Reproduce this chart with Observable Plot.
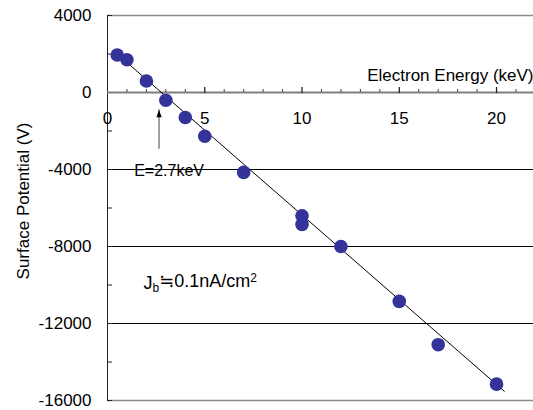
<!DOCTYPE html>
<html>
<head>
<meta charset="utf-8">
<script src="https://cdn.jsdelivr.net/npm/d3@7"></script>
<script src="https://cdn.jsdelivr.net/npm/@observablehq/plot@0.6"></script>
<style>
  html, body { margin: 0; padding: 0; background: #fff; }
  svg { font-family: "Liberation Sans", Arial, sans-serif; }
</style>
</head>
<body>
<div id="chart"></div>
<script>
// Measured data: electron energy (keV) vs surface potential (V)
const energy    = [0.5, 1, 2, 3, 4, 5, 7, 10, 10, 12, 15, 17, 20];
const potential = [1950, 1700, 600, -400, -1300, -2270, -4150, -6400, -6850, -8000, -10850, -13100, -15150];

// Fitted line endpoints
const fitEnergy    = [0.5, 20.4];
const fitPotential = [2000, -15520];

// Axis ticks
const yGridTicks  = [4000, 0, -4000, -8000, -12000, -16000];
const yMinorTicks = [2000, -2000, -6000, -10000, -14000];
const xLabelTicks = [0, 5, 10, 15, 20];
const xMinorTicks = [1, 2, 3, 4, 6, 7, 8, 9, 11, 12, 13, 14, 16, 17, 18, 19, 21];

// Annotations
const arrowEnergy = [2.65];
const arrowFrom   = [-2950];
const arrowTo     = [-900];
const arrowLabel  = ["E=2.7keV"];
const labelY      = [-4000];

const points = energy.map((e, i) => ({e, v: potential[i]}));
const fit = fitEnergy.map((e, i) => ({e, v: fitPotential[i]}));

const W = 533, H = 410;
const mL = 107, mR = 0, mT = 15, mB = 10;
const frameW = W - mL - mR, frameH = H - mT - mB;
const yDomain = [-16000, 4000];
const zeroOffset = frameH * (yDomain[1] / (yDomain[1] - yDomain[0])); // px from frame top to y=0

const headSymbol = {
  draw(ctx) {
    ctx.moveTo(0, 0);
    ctx.lineTo(2.6, 7.5);
    ctx.lineTo(-2.6, 7.5);
    ctx.closePath();
  }
};

const innerGrid = yGridTicks.filter(d => d !== 0 && d !== 4000 && d !== -16000);
const edgeGrid = yGridTicks.filter(d => d === 4000 || d === -16000);

const chart = Plot.plot({
  width: W, height: H,
  marginLeft: mL, marginRight: mR, marginTop: mT, marginBottom: mB,
  style: {fontFamily: '"Liberation Sans", Arial, sans-serif', fontSize: "17px", background: "#fff"},
  x: {domain: [0, 21.9], axis: null},
  y: {domain: yDomain, axis: null},
  marks: [
    // gridlines
    Plot.ruleY(innerGrid, {stroke: "#000", strokeWidth: 1}),
    Plot.ruleY(edgeGrid, {stroke: "#8a8a8a", strokeWidth: 1.5}),
    // y axis line + inner ticks
    Plot.ruleX([0], {stroke: "#222", strokeWidth: 1}),
    Plot.tickY(yMinorTicks, {y: d => d, insetRight: frameW - 5, stroke: "#222"}),
    Plot.tickY(yGridTicks, {y: d => d, insetRight: frameW - 5, stroke: "#222"}),
    // y tick labels
    Plot.text(yGridTicks, {x: 0, y: d => d, text: d => String(d), textAnchor: "end", dx: -16, fill: "#000", fontSize: 17}),
    // x axis at zero
    Plot.ruleY([0], {stroke: "#7f7f7f", strokeWidth: 2}),
    Plot.tickX(xMinorTicks, {x: d => d, insetTop: zeroOffset - 3, insetBottom: frameH - zeroOffset, stroke: "#444"}),
    Plot.tickX(xLabelTicks.filter(d => d > 0), {x: d => d, insetTop: zeroOffset - 5, insetBottom: frameH - zeroOffset - 1, stroke: "#222", strokeWidth: 1.3}),
    Plot.text(xLabelTicks, {x: d => d, y: 0, text: d => String(d), dy: 26, fill: "#000", fontSize: 17}),
    Plot.text(["Electron Energy (keV)"], {x: 21.9, y: 0, text: d => d, textAnchor: "end", dy: -17, fill: "#000", fontSize: 17}),
    // y axis label
    Plot.text(["Surface Potential (V)"], {frameAnchor: "left", textAnchor: "middle", text: d => d, rotate: -90, dx: -84, dy: -7, fill: "#000", fontSize: 17}),
    // fit line
    Plot.line(fit, {x: "e", y: "v", stroke: "#000", strokeWidth: 1}),
    // data points
    Plot.dot(points, {x: "e", y: "v", r: 6.8, fill: "#333399", stroke: "none"}),
    // arrow annotation
    Plot.ruleX(arrowEnergy, {x: d => d, y1: (d, i) => arrowFrom[i], y2: (d, i) => arrowTo[i], stroke: "#808080", strokeWidth: 1.5}),
    Plot.dot(arrowEnergy, {x: d => d, y: (d, i) => arrowTo[i], symbol: headSymbol, fill: "#000", r: 3}),
    Plot.text(arrowLabel, {x: arrowEnergy, y: labelY, text: d => d, dx: 10, dy: 1, fill: "#000", fontSize: 16}),
    // current density label
    Plot.text(["Jb"], {x: 1.85, y: -9900, text: d => d, textAnchor: "start", fill: "#000", fontSize: 18, className: "jb-label"})
  ]
});

document.getElementById("chart").appendChild(chart);

// Rich text for current density label (subscript b, superscript 2)
d3.select(chart).selectAll(".jb-label text").each(function() {
  const t = d3.select(this);
  t.text(null);
  t.append("tspan").text("J");
  t.append("tspan").attr("dy", "0.3em").attr("font-size", "12px").text("b");
  t.append("tspan").attr("dy", "-0.3em").attr("font-family", "DejaVu Sans").attr("font-size", "18px").text("\u2252");
  t.append("tspan").text("0.1nA/cm");
  t.append("tspan").attr("dy", "-0.45em").attr("font-size", "12px").text("2");
});
</script>
</body>
</html>
